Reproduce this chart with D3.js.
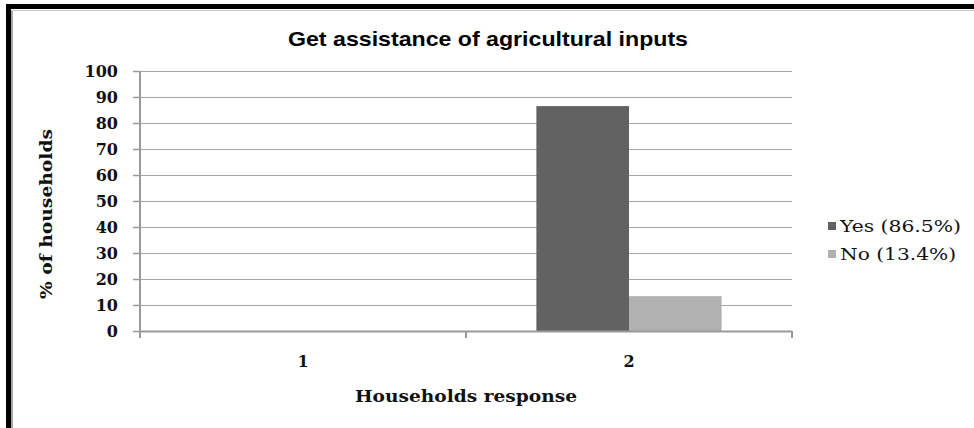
<!DOCTYPE html>
<html>
<head>
<meta charset="utf-8">
<script src="https://cdn.jsdelivr.net/npm/d3@7"></script>
<style>
  html, body { margin: 0; padding: 0; background: #fff; }
  svg { display: block; }
</style>
</head>
<body>
<svg id="chart" width="974" height="428"></svg>
<script>
// Survey answers per response group (group 1 has no answers recorded)
const categories = ["1", "2"];
const seriesNames = ["Yes (86.5%)", "No (13.4%)"];
const yesValues = [null, 86.5];
const noValues = [null, 13.4];
const yTicks = [0, 10, 20, 30, 40, 50, 60, 70, 80, 90, 100];
const seriesColors = ["#626262", "#b1b1b1"];

const series = [yesValues, noValues];

const svg = d3.select("#chart");
const W = 974, H = 428;
const margin = { left: 140, right: 182, top: 71, bottom: 97 };
const plotW = W - margin.left - margin.right;
const plotH = H - margin.top - margin.bottom;

const serif = "'DejaVu Serif', 'Liberation Serif', serif";

// frame
svg.append("rect").attr("x", 6).attr("y", 4).attr("width", W).attr("height", 5).attr("fill", "#000");
svg.append("rect").attr("x", 6).attr("y", 4).attr("width", 5).attr("height", H).attr("fill", "#000");
svg.append("line").attr("x1", 12).attr("x2", 12).attr("y1", 10).attr("y2", H)
  .attr("stroke", "#a8a8a8").attr("stroke-width", 2);
svg.append("line").attr("x1", 11).attr("x2", W).attr("y1", 10.5).attr("y2", 10.5)
  .attr("stroke", "#c8c8c8").attr("stroke-width", 1);

const g = svg.append("g").attr("transform", `translate(${margin.left},${margin.top})`);

const x0 = d3.scaleBand().domain(categories).range([0, plotW]).paddingInner(0).paddingOuter(0);
const x1 = d3.scaleBand().domain(d3.range(series.length)).range([0, x0.bandwidth()]).paddingInner(0).paddingOuter(0.76);
const y = d3.scaleLinear().domain([0, 100]).range([plotH, 0]);

// horizontal gridlines
g.append("g").selectAll("line").data(yTicks.filter(t => t > 0)).join("line")
  .attr("x1", 0).attr("x2", plotW)
  .attr("y1", d => Math.round(y(d)) + 0.5).attr("y2", d => Math.round(y(d)) + 0.5)
  .attr("stroke", "#a6a6a6").attr("stroke-width", 1);

// bars
series.forEach((vals, si) => {
  g.append("g").selectAll("rect")
    .data(categories.map((c, i) => ({ c, v: vals[i] })).filter(d => d.v != null))
    .join("rect")
    .attr("x", d => x0(d.c) + x1(si))
    .attr("width", x1.bandwidth())
    .attr("y", d => y(d.v))
    .attr("height", d => y(0) - y(d.v))
    .attr("fill", seriesColors[si]);
});

// y axis
const yAxis = g.append("g").call(d3.axisLeft(y).tickValues(yTicks).tickSize(7).tickPadding(15).tickFormat(d3.format("d")));
yAxis.select(".domain").attr("stroke", "#9a9a9a").attr("stroke-width", 2).attr("d", `M0,${plotH + 6}V0`);
yAxis.selectAll(".tick line").attr("stroke", "#9a9a9a").attr("stroke-width", 1.5);
yAxis.selectAll(".tick text").attr("font-family", serif).attr("font-weight", "bold")
  .attr("font-size", "16px").attr("fill", "#111");

// x axis with tick marks at category boundaries
const xAxisG = g.append("g").attr("transform", `translate(0,${plotH})`);
xAxisG.append("line").attr("x1", 0).attr("x2", plotW).attr("y1", 0.5).attr("y2", 0.5)
  .attr("stroke", "#9a9a9a").attr("stroke-width", 2);
const boundaries = categories.map(c => x0(c)).concat([x0.range()[1]]);
xAxisG.selectAll("line.b").data(boundaries).join("line").attr("class", "b")
  .attr("x1", d => d).attr("x2", d => d).attr("y1", 0).attr("y2", 7)
  .attr("stroke", "#9a9a9a").attr("stroke-width", 2);
xAxisG.selectAll("text").data(categories).join("text")
  .attr("x", d => x0(d) + x0.bandwidth() / 2).attr("y", 36)
  .attr("text-anchor", "middle")
  .attr("font-family", serif).attr("font-weight", "bold").attr("font-size", "16px").attr("fill", "#111")
  .text(d => d);

// titles
svg.append("text").attr("x", 488).attr("y", 46).attr("text-anchor", "middle")
  .attr("font-family", "'Liberation Sans Narrow', 'Liberation Sans', Arial, sans-serif")
  .attr("font-weight", "bold").attr("font-size", "21px").attr("fill", "#000")
  .attr("textLength", 400).attr("lengthAdjust", "spacingAndGlyphs")
  .text("Get assistance of agricultural inputs");

svg.append("text").attr("x", 466).attr("y", 402).attr("text-anchor", "middle")
  .attr("font-family", serif).attr("font-weight", "bold").attr("font-size", "16px").attr("fill", "#111")
  .attr("textLength", 222).attr("lengthAdjust", "spacingAndGlyphs")
  .text("Households response");

svg.append("text").attr("transform", `translate(52,214) rotate(-90)`)
  .attr("text-anchor", "middle")
  .attr("font-family", serif).attr("font-weight", "bold").attr("font-size", "16px").attr("fill", "#111")
  .attr("textLength", 170).attr("lengthAdjust", "spacingAndGlyphs")
  .text("% of households");

// legend
const legendLen = [121, 116];
const legend = svg.append("g").attr("transform", "translate(828,232)");
seriesNames.forEach((name, i) => {
  const row = legend.append("g").attr("transform", `translate(0,${i * 28})`);
  row.append("rect").attr("x", 0).attr("y", -10).attr("width", 8).attr("height", 8).attr("fill", seriesColors[i]);
  row.append("text").attr("x", 12).attr("y", 0)
    .attr("font-family", serif).attr("font-size", "16px").attr("fill", "#111")
    .attr("textLength", legendLen[i]).attr("lengthAdjust", "spacingAndGlyphs")
    .text(name);
});
</script>
</body>
</html>
